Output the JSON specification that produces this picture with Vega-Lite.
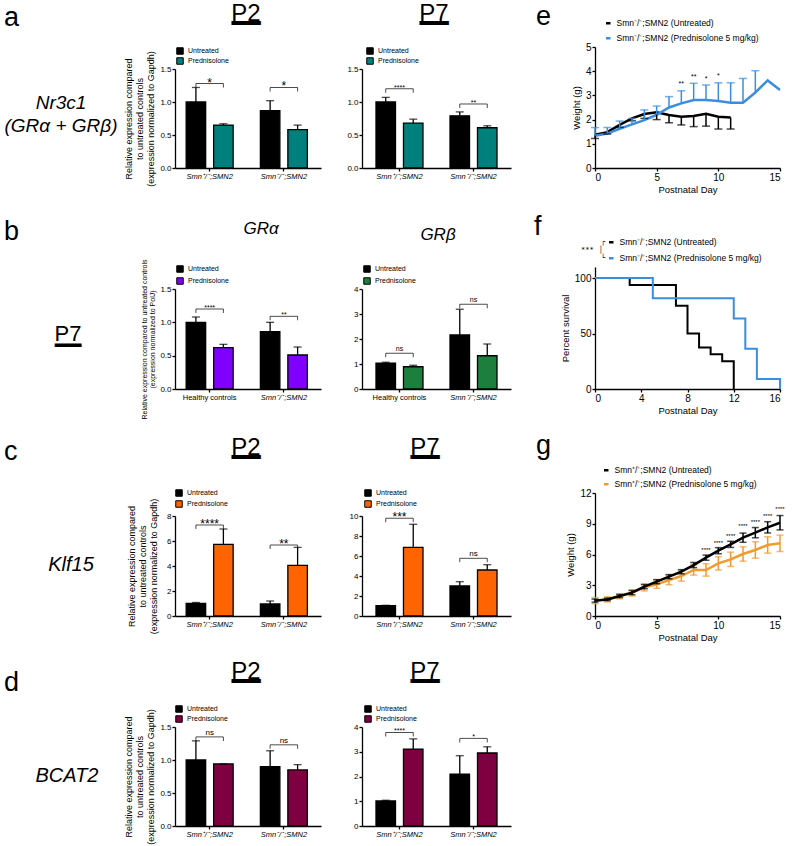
{
"$schema": "https://vega.github.io/schema/vega-lite/v6.json",
"background": "white",
"padding": {"left": 4, "top": 2, "right": 0, "bottom": 0},
"bounds": "flush",
"columns": 4,
"spacing": {"row": 99, "column": 41},
"resolve": {"scale": {"color": "independent", "fill": "independent", "xOffset": "independent"}, "legend": {"color": "independent", "fill": "independent"}},
"config": {
  "font": "Liberation Sans",
  "view": {"stroke": null},
  "axis": {"grid": false, "domainColor": "#000", "domainWidth": 1.3, "tickColor": "#000", "tickWidth": 1.3, "tickSize": 3, "labelColor": "#000", "titleColor": "#000", "titleFontWeight": "normal", "labelFontSize": 8, "labelPadding": 1, "labelOverlap": false},
  "legend": {"padding": 0, "offset": 0, "labelColor": "#000", "labelFontSize": 7, "titleColor": "#000"},
  "title": {"color": "#000", "fontWeight": "normal", "subtitleColor": "#000", "frame": "group"}
},
"datasets": {
  "aP2": [
    {"g": "Smn⁺/⁻;SMN2", "t": "Untreated", "v": 1.0, "e": 1.22},
    {"g": "Smn⁺/⁻;SMN2", "t": "Prednisolone", "v": 0.65, "e": 0.67},
    {"g": "Smn⁻/⁻;SMN2", "t": "Untreated", "v": 0.87, "e": 1.02},
    {"g": "Smn⁻/⁻;SMN2", "t": "Prednisolone", "v": 0.58, "e": 0.65}],
  "aP2s": [{"g": "Smn⁺/⁻;SMN2", "y": 1.28, "s": "*"}, {"g": "Smn⁻/⁻;SMN2", "y": 1.22, "s": "*"}],
  "aP7": [
    {"g": "Smn⁺/⁻;SMN2", "t": "Untreated", "v": 1.0, "e": 1.07},
    {"g": "Smn⁺/⁻;SMN2", "t": "Prednisolone", "v": 0.68, "e": 0.74},
    {"g": "Smn⁻/⁻;SMN2", "t": "Untreated", "v": 0.79, "e": 0.85},
    {"g": "Smn⁻/⁻;SMN2", "t": "Prednisolone", "v": 0.61, "e": 0.64}],
  "aP7s": [{"g": "Smn⁺/⁻;SMN2", "y": 1.2, "s": "****"}, {"g": "Smn⁻/⁻;SMN2", "y": 0.97, "s": "**"}],
  "bA": [
    {"g": "Healthy controls", "t": "Untreated", "v": 1.0, "e": 1.08},
    {"g": "Healthy controls", "t": "Prednisolone", "v": 0.62, "e": 0.67},
    {"g": "Smn⁻/⁻;SMN2", "t": "Untreated", "v": 0.86, "e": 1.0},
    {"g": "Smn⁻/⁻;SMN2", "t": "Prednisolone", "v": 0.51, "e": 0.63}],
  "bAs": [{"g": "Healthy controls", "y": 1.2, "s": "****"}, {"g": "Smn⁻/⁻;SMN2", "y": 1.09, "s": "**"}],
  "bB": [
    {"g": "Healthy controls", "t": "Untreated", "v": 1.03, "e": 1.07},
    {"g": "Healthy controls", "t": "Prednisolone", "v": 0.89, "e": 0.95},
    {"g": "Smn⁻/⁻;SMN2", "t": "Untreated", "v": 2.16, "e": 3.19},
    {"g": "Smn⁻/⁻;SMN2", "t": "Prednisolone", "v": 1.33, "e": 1.8}],
  "bBs": [{"g": "Healthy controls", "y": 1.43, "s": "ns"}, {"g": "Smn⁻/⁻;SMN2", "y": 3.39, "s": "ns"}],
  "cP2": [
    {"g": "Smn⁺/⁻;SMN2", "t": "Untreated", "v": 1.0, "e": 1.08},
    {"g": "Smn⁺/⁻;SMN2", "t": "Prednisolone", "v": 5.73, "e": 6.96},
    {"g": "Smn⁻/⁻;SMN2", "t": "Untreated", "v": 0.97, "e": 1.2},
    {"g": "Smn⁻/⁻;SMN2", "t": "Prednisolone", "v": 4.05, "e": 5.49}],
  "cP2s": [{"g": "Smn⁺/⁻;SMN2", "y": 7.28, "s": "****"}, {"g": "Smn⁻/⁻;SMN2", "y": 5.68, "s": "**"}],
  "cP7": [
    {"g": "Smn⁺/⁻;SMN2", "t": "Untreated", "v": 1.03, "e": 1.07},
    {"g": "Smn⁺/⁻;SMN2", "t": "Prednisolone", "v": 6.87, "e": 9.17},
    {"g": "Smn⁻/⁻;SMN2", "t": "Untreated", "v": 3.0, "e": 3.43},
    {"g": "Smn⁻/⁻;SMN2", "t": "Prednisolone", "v": 4.6, "e": 5.13}],
  "cP7s": [{"g": "Smn⁺/⁻;SMN2", "y": 9.77, "s": "***"}, {"g": "Smn⁻/⁻;SMN2", "y": 5.77, "s": "ns"}],
  "dP2": [
    {"g": "Smn⁺/⁻;SMN2", "t": "Untreated", "v": 1.0, "e": 1.29},
    {"g": "Smn⁺/⁻;SMN2", "t": "Prednisolone", "v": 0.94, "e": 0.94},
    {"g": "Smn⁻/⁻;SMN2", "t": "Untreated", "v": 0.9, "e": 1.14},
    {"g": "Smn⁻/⁻;SMN2", "t": "Prednisolone", "v": 0.85, "e": 0.93}],
  "dP2s": [{"g": "Smn⁺/⁻;SMN2", "y": 1.35, "s": "ns"}, {"g": "Smn⁻/⁻;SMN2", "y": 1.23, "s": "ns"}],
  "dP7": [
    {"g": "Smn⁺/⁻;SMN2", "t": "Untreated", "v": 1.01, "e": 1.04},
    {"g": "Smn⁺/⁻;SMN2", "t": "Prednisolone", "v": 3.11, "e": 3.52},
    {"g": "Smn⁻/⁻;SMN2", "t": "Untreated", "v": 2.1, "e": 2.84},
    {"g": "Smn⁻/⁻;SMN2", "t": "Prednisolone", "v": 2.95, "e": 3.2}],
  "dP7s": [{"g": "Smn⁺/⁻;SMN2", "y": 3.78, "s": "****"}, {"g": "Smn⁻/⁻;SMN2", "y": 3.54, "s": "*"}],
  "eL": [
    {"d": 0, "s": "U", "w": 1.38}, {"d": 1, "s": "U", "w": 1.48}, {"d": 2, "s": "U", "w": 1.78}, {"d": 3, "s": "U", "w": 2.05},
    {"d": 4, "s": "U", "w": 2.23}, {"d": 5, "s": "U", "w": 2.3}, {"d": 6, "s": "U", "w": 2.19}, {"d": 7, "s": "U", "w": 2.12},
    {"d": 8, "s": "U", "w": 2.15}, {"d": 9, "s": "U", "w": 2.24}, {"d": 10, "s": "U", "w": 2.12}, {"d": 11, "s": "U", "w": 2.09},
    {"d": 0, "s": "P", "w": 1.33}, {"d": 1, "s": "P", "w": 1.42}, {"d": 2, "s": "P", "w": 1.62}, {"d": 3, "s": "P", "w": 1.8},
    {"d": 4, "s": "P", "w": 1.98}, {"d": 5, "s": "P", "w": 2.2}, {"d": 6, "s": "P", "w": 2.5}, {"d": 7, "s": "P", "w": 2.67},
    {"d": 8, "s": "P", "w": 2.81}, {"d": 9, "s": "P", "w": 2.81}, {"d": 10, "s": "P", "w": 2.77}, {"d": 11, "s": "P", "w": 2.7},
    {"d": 12, "s": "P", "w": 2.7}, {"d": 13, "s": "P", "w": 3.12}, {"d": 14, "s": "P", "w": 3.62}, {"d": 15, "s": "P", "w": 3.22}],
  "eEU": [
    {"d": 0, "w": 1.38, "b": 1.22}, {"d": 1, "w": 1.48, "b": 1.4}, {"d": 2, "w": 1.78, "b": 1.68}, {"d": 3, "w": 2.05, "b": 1.95},
    {"d": 4, "w": 2.23, "b": 2.05}, {"d": 5, "w": 2.3, "b": 2.0}, {"d": 6, "w": 2.19, "b": 1.87}, {"d": 7, "w": 2.12, "b": 1.78},
    {"d": 8, "w": 2.15, "b": 1.71}, {"d": 9, "w": 2.24, "b": 1.73}, {"d": 10, "w": 2.12, "b": 1.61}, {"d": 11, "w": 2.09, "b": 1.61}],
  "eEP": [
    {"d": 0, "w": 1.33, "b": 1.67}, {"d": 1, "w": 1.42, "b": 1.67}, {"d": 2, "w": 1.62, "b": 1.94}, {"d": 3, "w": 1.8, "b": 2.05},
    {"d": 4, "w": 1.98, "b": 2.4}, {"d": 5, "w": 2.2, "b": 2.56}, {"d": 6, "w": 2.5, "b": 2.95}, {"d": 7, "w": 2.67, "b": 3.19},
    {"d": 8, "w": 2.81, "b": 3.5}, {"d": 9, "w": 2.81, "b": 3.43}, {"d": 10, "w": 2.77, "b": 3.52}, {"d": 11, "w": 2.7, "b": 3.52},
    {"d": 12, "w": 2.7, "b": 3.7}, {"d": 13, "w": 3.12, "b": 4.02}],
  "eS": [{"d": 7, "y": 3.47, "s": "**"}, {"d": 8, "y": 3.77, "s": "**"}, {"d": 9, "y": 3.68, "s": "*"}, {"d": 10, "y": 3.8, "s": "*"}],
  "fL": [
    {"d": 0, "s": "U", "p": 100}, {"d": 3, "s": "U", "p": 93.75}, {"d": 7, "s": "U", "p": 75}, {"d": 8, "s": "U", "p": 50},
    {"d": 9, "s": "U", "p": 37.5}, {"d": 10, "s": "U", "p": 31.25}, {"d": 11, "s": "U", "p": 25}, {"d": 12, "s": "U", "p": 0},
    {"d": 0, "s": "P", "p": 100}, {"d": 5, "s": "P", "p": 81.8}, {"d": 12, "s": "P", "p": 63.6}, {"d": 13, "s": "P", "p": 36.4},
    {"d": 14, "s": "P", "p": 9.1}, {"d": 16, "s": "P", "p": 0}],
  "gU": [
    {"d": 0, "w": 1.5, "lo": 1.35, "hi": 1.65}, {"d": 1, "w": 1.62, "lo": 1.5, "hi": 1.74}, {"d": 2, "w": 1.95, "lo": 1.8, "hi": 2.1},
    {"d": 3, "w": 2.28, "lo": 2.08, "hi": 2.48}, {"d": 4, "w": 2.86, "lo": 2.66, "hi": 3.06}, {"d": 5, "w": 3.35, "lo": 3.15, "hi": 3.55},
    {"d": 6, "w": 3.84, "lo": 3.64, "hi": 4.04}, {"d": 7, "w": 4.32, "lo": 4.12, "hi": 4.52}, {"d": 8, "w": 4.97, "lo": 4.72, "hi": 5.22},
    {"d": 9, "w": 5.69, "lo": 5.44, "hi": 5.94}, {"d": 10, "w": 6.37, "lo": 6.07, "hi": 6.67}, {"d": 11, "w": 6.99, "lo": 6.69, "hi": 7.29},
    {"d": 12, "w": 7.64, "lo": 7.19, "hi": 8.09}, {"d": 13, "w": 8.13, "lo": 7.63, "hi": 8.63}, {"d": 14, "w": 8.65, "lo": 8.1, "hi": 9.2},
    {"d": 15, "w": 9.1, "lo": 8.4, "hi": 9.8}],
  "gP": [
    {"d": 0, "w": 1.5, "lo": 1.2, "hi": 1.8}, {"d": 1, "w": 1.62, "lo": 1.37, "hi": 1.87}, {"d": 2, "w": 1.92, "lo": 1.67, "hi": 2.17},
    {"d": 3, "w": 2.25, "lo": 1.95, "hi": 2.55}, {"d": 4, "w": 2.8, "lo": 2.45, "hi": 3.15}, {"d": 5, "w": 3.1, "lo": 2.7, "hi": 3.5},
    {"d": 6, "w": 3.5, "lo": 3.05, "hi": 3.95}, {"d": 7, "w": 3.9, "lo": 3.4, "hi": 4.4}, {"d": 8, "w": 4.49, "lo": 3.99, "hi": 4.99},
    {"d": 9, "w": 4.49, "lo": 3.89, "hi": 5.09}, {"d": 10, "w": 5.14, "lo": 4.49, "hi": 5.79}, {"d": 11, "w": 5.53, "lo": 4.83, "hi": 6.23},
    {"d": 12, "w": 6.05, "lo": 5.35, "hi": 6.75}, {"d": 13, "w": 6.44, "lo": 5.64, "hi": 7.24}, {"d": 14, "w": 6.93, "lo": 6.13, "hi": 7.73},
    {"d": 15, "w": 7.09, "lo": 6.29, "hi": 7.89}],
  "gS": [{"d": 9, "y": 6.44, "s": "****"}, {"d": 10, "y": 7.15, "s": "****"}, {"d": 11, "y": 7.8, "s": "****"}, {"d": 12, "y": 8.78, "s": "****"},
    {"d": 13, "y": 9.2, "s": "****"}, {"d": 14, "y": 9.76, "s": "****"}, {"d": 15, "y": 10.4, "s": "****"}]
},
"concat": [
  {"width": 130, "height": 121,
   "title": {"text": "a", "anchor": "start", "fontSize": 27, "offset": 15},
   "data": {"values": [{"label": "Nr3c1\n(GRα + GRβ)"}]},
   "mark": {"type": "text", "fontSize": 19, "fontStyle": "italic", "lineBreak": "\n", "lineHeight": 23, "dx": -8, "dy": -4.5},
   "encoding": {"text": {"field": "label", "type": "nominal"}}},
  {"width": 146, "height": 121,
   "title": {"text": "P2", "subtitle": "━━", "anchor": "middle", "dx": -2, "offset": 11, "fontSize": 24, "subtitleFont": "DejaVu Sans", "subtitleFontSize": 24, "subtitlePadding": -14},
   "layer": [
    {"data": {"name": "aP2"}, "mark": {"type": "bar", "stroke": "#000", "strokeWidth": 1.3},
     "encoding": {
      "x": {"field": "g", "type": "nominal", "sort": null, "scale": {"paddingInner": 0.367, "paddingOuter": 0.167, "align": 0.45}, "axis": {"title": null, "labelAngle": 0, "labelFontStyle": "italic", "labelFontSize": 7.5}},
      "xOffset": {"field": "t", "type": "nominal", "sort": ["Untreated", "Prednisolone"], "scale": {"paddingInner": 0.29, "paddingOuter": 0}},
      "y": {"field": "v", "type": "quantitative", "scale": {"domain": [0, 1.5], "range": [121, 22], "nice": false}, "axis": {"values": [0, 0.5, 1, 1.5], "tickCount": 20, "format": ".1f", "labelOverlap": false, "title": ["Relative expression compared", "to untreated controls", "(expression normalized to Gapdh)"], "titleFontSize": 9, "titleLineHeight": 11, "titlePadding": 4}},
      "fill": {"field": "t", "type": "nominal", "scale": {"domain": ["Untreated", "Prednisolone"], "range": ["#000000", "#00807c"]}, "legend": {"orient": "none", "legendX": 1, "legendY": 0, "title": null, "symbolType": "square", "symbolSize": 42, "symbolStrokeColor": "#000", "symbolStrokeWidth": 1, "labelFontSize": 7, "rowPadding": -3}}}},
    {"data": {"name": "aP2"}, "mark": {"type": "rule", "color": "#000", "strokeWidth": 1.3},
     "encoding": {"x": {"field": "g", "type": "nominal", "sort": null}, "xOffset": {"field": "t", "type": "nominal", "sort": ["Untreated", "Prednisolone"]}, "y": {"field": "v", "type": "quantitative"}, "y2": {"field": "e"}}},
    {"data": {"name": "aP2"}, "mark": {"type": "tick", "orient": "horizontal", "color": "#000", "size": 8, "thickness": 1.3},
     "encoding": {"x": {"field": "g", "type": "nominal", "sort": null}, "xOffset": {"field": "t", "type": "nominal", "sort": ["Untreated", "Prednisolone"]}, "y": {"field": "e", "type": "quantitative"}}},
    {"data": {"name": "aP2s"}, "mark": {"type": "tick", "orient": "horizontal", "color": "#000", "size": 27.5, "thickness": 1},
     "encoding": {"x": {"field": "g", "type": "nominal", "sort": null}, "y": {"field": "y", "type": "quantitative"}}},
    {"data": {"name": "aP2s"}, "mark": {"type": "tick", "orient": "vertical", "color": "#000", "size": 4, "thickness": 1, "yOffset": 2},
     "encoding": {"x": {"field": "g", "type": "nominal", "sort": null, "bandPosition": 0.2074}, "y": {"field": "y", "type": "quantitative"}}},
    {"data": {"name": "aP2s"}, "mark": {"type": "tick", "orient": "vertical", "color": "#000", "size": 4, "thickness": 1, "yOffset": 2},
     "encoding": {"x": {"field": "g", "type": "nominal", "sort": null, "bandPosition": 0.7926}, "y": {"field": "y", "type": "quantitative"}}},
    {"data": {"name": "aP2s"}, "mark": {"type": "text", "fontSize": 12, "baseline": "alphabetic", "dy": 3},
     "encoding": {"x": {"field": "g", "type": "nominal", "sort": null}, "y": {"field": "y", "type": "quantitative"}, "text": {"field": "s", "type": "nominal"}}}
   ]},
  {"width": 192, "height": 121,
   "title": {"text": "P7", "subtitle": "━━", "anchor": "middle", "dx": -24, "offset": 11, "fontSize": 24, "subtitleFont": "DejaVu Sans", "subtitleFontSize": 24, "subtitlePadding": -14},
   "layer": [
    {"data": {"name": "aP7"}, "mark": {"type": "bar", "stroke": "#000", "strokeWidth": 1.3},
     "encoding": {
      "x": {"field": "g", "type": "nominal", "sort": null, "scale": {"range": [0, 149], "paddingInner": 0.365, "paddingOuter": 0.189}, "axis": {"title": null, "labelAngle": 0, "labelFontStyle": "italic", "labelFontSize": 7.5}},
      "xOffset": {"field": "t", "type": "nominal", "sort": ["Untreated", "Prednisolone"], "scale": {"paddingInner": 0.29, "paddingOuter": 0}},
      "y": {"field": "v", "type": "quantitative", "scale": {"domain": [0, 1.5], "range": [121, 22], "nice": false}, "axis": {"values": [0, 0.5, 1, 1.5], "tickCount": 20, "format": ".1f", "labelOverlap": false, "title": null}},
      "fill": {"field": "t", "type": "nominal", "scale": {"domain": ["Untreated", "Prednisolone"], "range": ["#000000", "#00807c"]}, "legend": {"orient": "none", "legendX": 4, "legendY": 0, "title": null, "symbolType": "square", "symbolSize": 42, "symbolStrokeColor": "#000", "symbolStrokeWidth": 1, "labelFontSize": 7, "rowPadding": -3}}}},
    {"data": {"name": "aP7"}, "mark": {"type": "rule", "color": "#000", "strokeWidth": 1.3},
     "encoding": {"x": {"field": "g", "type": "nominal", "sort": null}, "xOffset": {"field": "t", "type": "nominal", "sort": ["Untreated", "Prednisolone"]}, "y": {"field": "v", "type": "quantitative"}, "y2": {"field": "e"}}},
    {"data": {"name": "aP7"}, "mark": {"type": "tick", "orient": "horizontal", "color": "#000", "size": 8, "thickness": 1.3},
     "encoding": {"x": {"field": "g", "type": "nominal", "sort": null}, "xOffset": {"field": "t", "type": "nominal", "sort": ["Untreated", "Prednisolone"]}, "y": {"field": "e", "type": "quantitative"}}},
    {"data": {"name": "aP7s"}, "mark": {"type": "tick", "orient": "horizontal", "color": "#000", "size": 27.5, "thickness": 1},
     "encoding": {"x": {"field": "g", "type": "nominal", "sort": null}, "y": {"field": "y", "type": "quantitative"}}},
    {"data": {"name": "aP7s"}, "mark": {"type": "tick", "orient": "vertical", "color": "#000", "size": 4, "thickness": 1, "yOffset": 2},
     "encoding": {"x": {"field": "g", "type": "nominal", "sort": null, "bandPosition": 0.2074}, "y": {"field": "y", "type": "quantitative"}}},
    {"data": {"name": "aP7s"}, "mark": {"type": "tick", "orient": "vertical", "color": "#000", "size": 4, "thickness": 1, "yOffset": 2},
     "encoding": {"x": {"field": "g", "type": "nominal", "sort": null, "bandPosition": 0.7926}, "y": {"field": "y", "type": "quantitative"}}},
    {"data": {"name": "aP7s"}, "mark": {"type": "text", "fontSize": 7, "baseline": "alphabetic", "dy": 1},
     "encoding": {"x": {"field": "g", "type": "nominal", "sort": null}, "y": {"field": "y", "type": "quantitative"}, "text": {"field": "s", "type": "nominal"}}}
   ]},
  {"width": 185, "height": 121,
   "title": {"text": "e", "anchor": "start", "dx": -59, "fontSize": 27, "offset": -12},
   "layer": [
    {"data": {"name": "eL"}, "mark": {"type": "line", "strokeWidth": 2.5},
     "encoding": {
      "x": {"field": "d", "type": "quantitative", "scale": {"domain": [0, 15], "nice": false}, "axis": {"values": [0, 5, 10, 15], "tickCount": 20, "format": "d", "labelOverlap": false, "title": "Postnatal Day", "labelFontSize": 10, "titleFontSize": 9.5, "titlePadding": 2}},
      "y": {"field": "w", "type": "quantitative", "scale": {"domain": [0, 5], "nice": false}, "axis": {"values": [0, 1, 2, 3, 4, 5], "tickCount": 20, "format": "d", "labelOverlap": false, "title": "Weight (g)", "labelFontSize": 10, "titleFontSize": 9.5, "titlePadding": 4}},
      "color": {"field": "s", "type": "nominal", "scale": {"domain": ["U", "P"], "range": ["#000000", "#3b8ede"]}, "legend": {"orient": "none", "legendX": 9, "legendY": -28, "title": null, "symbolType": "stroke", "symbolStrokeWidth": 2.5, "symbolSize": 20, "labelFontSize": 8.5, "rowPadding": 4, "labelLimit": 300, "labelExpr": "datum.label == 'U' ? 'Smn⁻/⁻;SMN2 (Untreated)' : 'Smn⁻/⁻;SMN2 (Prednisolone 5 mg/kg)'"}}}},
    {"data": {"name": "eEU"}, "mark": {"type": "rule", "color": "#000", "strokeWidth": 1.5},
     "encoding": {"x": {"field": "d", "type": "quantitative"}, "y": {"field": "w", "type": "quantitative"}, "y2": {"field": "b"}}},
    {"data": {"name": "eEU"}, "mark": {"type": "tick", "orient": "horizontal", "color": "#000", "size": 8, "thickness": 1.5},
     "encoding": {"x": {"field": "d", "type": "quantitative"}, "y": {"field": "b", "type": "quantitative"}}},
    {"data": {"name": "eEP"}, "mark": {"type": "rule", "color": "#3b8ede", "strokeWidth": 1.5},
     "encoding": {"x": {"field": "d", "type": "quantitative"}, "y": {"field": "w", "type": "quantitative"}, "y2": {"field": "b"}}},
    {"data": {"name": "eEP"}, "mark": {"type": "tick", "orient": "horizontal", "color": "#3b8ede", "size": 8, "thickness": 1.5},
     "encoding": {"x": {"field": "d", "type": "quantitative"}, "y": {"field": "b", "type": "quantitative"}}},
    {"data": {"name": "eS"}, "mark": {"type": "text", "fontSize": 7, "baseline": "middle"},
     "encoding": {"x": {"field": "d", "type": "quantitative"}, "y": {"field": "y", "type": "quantitative"}, "text": {"field": "s", "type": "nominal"}}}
   ]},

  {"width": 130, "height": 122,
   "title": {"text": "b", "anchor": "start", "fontSize": 27, "offset": 21},
   "data": {"values": [{"label": "P7"}]},
   "layer": [
    {"mark": {"type": "text", "fontSize": 22, "dx": -1, "dy": 6}, "encoding": {"text": {"field": "label", "type": "nominal"}}},
    {"mark": {"type": "text", "font": "DejaVu Sans", "fontSize": 22, "dx": -1, "dy": 18}, "encoding": {"text": {"value": "━━"}}}
   ]},
  {"width": 146, "height": 122,
   "title": {"text": "GRα", "anchor": "middle", "dx": 13, "offset": 21, "fontSize": 17, "fontStyle": "italic"},
   "layer": [
    {"data": {"name": "bA"}, "mark": {"type": "bar", "stroke": "#000", "strokeWidth": 1.3},
     "encoding": {
      "x": {"field": "g", "type": "nominal", "sort": null, "scale": {"paddingInner": 0.367, "paddingOuter": 0.167, "align": 0.45}, "axis": {"title": null, "labelAngle": 0, "labelFontStyle": {"condition": {"test": "datum.value == 'Healthy controls'", "value": "normal"}, "value": "italic"}, "labelFontSize": 7.5}},
      "xOffset": {"field": "t", "type": "nominal", "sort": ["Untreated", "Prednisolone"], "scale": {"paddingInner": 0.29, "paddingOuter": 0}},
      "y": {"field": "v", "type": "quantitative", "scale": {"domain": [0, 1.5], "range": [122, 22], "nice": false}, "axis": {"values": [0, 0.5, 1, 1.5], "tickCount": 20, "format": ".1f", "labelOverlap": false, "title": ["Relative expression compared to untreated controls", "(expression normalized to PolJ)"], "titleFontSize": 7, "titleLineHeight": 8, "titlePadding": 4}},
      "fill": {"field": "t", "type": "nominal", "scale": {"domain": ["Untreated", "Prednisolone"], "range": ["#000000", "#8000ff"]}, "legend": {"orient": "none", "legendX": 1, "legendY": -2, "title": null, "symbolType": "square", "symbolSize": 42, "symbolStrokeColor": "#000", "symbolStrokeWidth": 1, "labelFontSize": 7, "rowPadding": 0}}}},
    {"data": {"name": "bA"}, "mark": {"type": "rule", "color": "#000", "strokeWidth": 1.3},
     "encoding": {"x": {"field": "g", "type": "nominal", "sort": null}, "xOffset": {"field": "t", "type": "nominal", "sort": ["Untreated", "Prednisolone"]}, "y": {"field": "v", "type": "quantitative"}, "y2": {"field": "e"}}},
    {"data": {"name": "bA"}, "mark": {"type": "tick", "orient": "horizontal", "color": "#000", "size": 8, "thickness": 1.3},
     "encoding": {"x": {"field": "g", "type": "nominal", "sort": null}, "xOffset": {"field": "t", "type": "nominal", "sort": ["Untreated", "Prednisolone"]}, "y": {"field": "e", "type": "quantitative"}}},
    {"data": {"name": "bAs"}, "mark": {"type": "tick", "orient": "horizontal", "color": "#000", "size": 27.5, "thickness": 1},
     "encoding": {"x": {"field": "g", "type": "nominal", "sort": null}, "y": {"field": "y", "type": "quantitative"}}},
    {"data": {"name": "bAs"}, "mark": {"type": "tick", "orient": "vertical", "color": "#000", "size": 4, "thickness": 1, "yOffset": 2},
     "encoding": {"x": {"field": "g", "type": "nominal", "sort": null, "bandPosition": 0.2074}, "y": {"field": "y", "type": "quantitative"}}},
    {"data": {"name": "bAs"}, "mark": {"type": "tick", "orient": "vertical", "color": "#000", "size": 4, "thickness": 1, "yOffset": 2},
     "encoding": {"x": {"field": "g", "type": "nominal", "sort": null, "bandPosition": 0.7926}, "y": {"field": "y", "type": "quantitative"}}},
    {"data": {"name": "bAs"}, "mark": {"type": "text", "fontSize": 7, "baseline": "alphabetic", "dy": 1},
     "encoding": {"x": {"field": "g", "type": "nominal", "sort": null}, "y": {"field": "y", "type": "quantitative"}, "text": {"field": "s", "type": "nominal"}}}
   ]},
  {"width": 192, "height": 122,
   "title": {"text": "GRβ", "anchor": "middle", "dx": -20, "offset": 21, "fontSize": 17, "fontStyle": "italic"},
   "layer": [
    {"data": {"name": "bB"}, "mark": {"type": "bar", "stroke": "#000", "strokeWidth": 1.3},
     "encoding": {
      "x": {"field": "g", "type": "nominal", "sort": null, "scale": {"range": [0, 149], "paddingInner": 0.365, "paddingOuter": 0.189}, "axis": {"title": null, "labelAngle": 0, "labelFontStyle": {"condition": {"test": "datum.value == 'Healthy controls'", "value": "normal"}, "value": "italic"}, "labelFontSize": 7.5}},
      "xOffset": {"field": "t", "type": "nominal", "sort": ["Untreated", "Prednisolone"], "scale": {"paddingInner": 0.29, "paddingOuter": 0}},
      "y": {"field": "v", "type": "quantitative", "scale": {"domain": [0, 4], "range": [122, 22], "nice": false}, "axis": {"values": [0, 1, 2, 3, 4], "tickCount": 20, "format": "d", "labelOverlap": false, "title": null}},
      "fill": {"field": "t", "type": "nominal", "scale": {"domain": ["Untreated", "Prednisolone"], "range": ["#000000", "#1d7f3e"]}, "legend": {"orient": "none", "legendX": 1, "legendY": -2, "title": null, "symbolType": "square", "symbolSize": 42, "symbolStrokeColor": "#000", "symbolStrokeWidth": 1, "labelFontSize": 7, "rowPadding": 0}}}},
    {"data": {"name": "bB"}, "mark": {"type": "rule", "color": "#000", "strokeWidth": 1.3},
     "encoding": {"x": {"field": "g", "type": "nominal", "sort": null}, "xOffset": {"field": "t", "type": "nominal", "sort": ["Untreated", "Prednisolone"]}, "y": {"field": "v", "type": "quantitative"}, "y2": {"field": "e"}}},
    {"data": {"name": "bB"}, "mark": {"type": "tick", "orient": "horizontal", "color": "#000", "size": 8, "thickness": 1.3},
     "encoding": {"x": {"field": "g", "type": "nominal", "sort": null}, "xOffset": {"field": "t", "type": "nominal", "sort": ["Untreated", "Prednisolone"]}, "y": {"field": "e", "type": "quantitative"}}},
    {"data": {"name": "bBs"}, "mark": {"type": "tick", "orient": "horizontal", "color": "#000", "size": 27.5, "thickness": 1},
     "encoding": {"x": {"field": "g", "type": "nominal", "sort": null}, "y": {"field": "y", "type": "quantitative"}}},
    {"data": {"name": "bBs"}, "mark": {"type": "tick", "orient": "vertical", "color": "#000", "size": 4, "thickness": 1, "yOffset": 2},
     "encoding": {"x": {"field": "g", "type": "nominal", "sort": null, "bandPosition": 0.2074}, "y": {"field": "y", "type": "quantitative"}}},
    {"data": {"name": "bBs"}, "mark": {"type": "tick", "orient": "vertical", "color": "#000", "size": 4, "thickness": 1, "yOffset": 2},
     "encoding": {"x": {"field": "g", "type": "nominal", "sort": null, "bandPosition": 0.7926}, "y": {"field": "y", "type": "quantitative"}}},
    {"data": {"name": "bBs"}, "mark": {"type": "text", "fontSize": 7, "baseline": "alphabetic", "dy": -2},
     "encoding": {"x": {"field": "g", "type": "nominal", "sort": null}, "y": {"field": "y", "type": "quantitative"}, "text": {"field": "s", "type": "nominal"}}}
   ]},
  {"width": 185, "height": 122,
   "title": {"text": "f", "anchor": "start", "dx": -61, "fontSize": 27, "offset": -3},
   "layer": [
    {"data": {"name": "fL"}, "mark": {"type": "line", "strokeWidth": 2, "interpolate": "step-after"},
     "encoding": {
      "x": {"field": "d", "type": "quantitative", "scale": {"domain": [0, 16], "nice": false}, "axis": {"values": [0, 4, 8, 12, 16], "tickCount": 20, "format": "d", "labelOverlap": false, "title": "Postnatal Day", "labelFontSize": 10, "titleFontSize": 9.5, "titlePadding": 2}},
      "y": {"field": "p", "type": "quantitative", "scale": {"domain": [0, 110], "nice": false}, "axis": {"values": [0, 50, 100], "tickCount": 20, "format": "d", "labelOverlap": false, "title": "Percent survival", "labelFontSize": 10, "titleFontSize": 9.5, "titlePadding": 4}},
      "color": {"field": "s", "type": "nominal", "scale": {"domain": ["U", "P"], "range": ["#000000", "#3b8ede"]}, "legend": {"orient": "none", "legendX": -14, "legendY": -29, "title": ["\u2800\u2800\u2800\u2800┌", "***\u2800│", "\u2800\u2800\u2800\u2800└"], "titleOrient": "left", "titleFont": "DejaVu Sans Mono", "titleFontSize": 7, "titleFontWeight": "normal", "titleLineHeight": 8.15, "titleAlign": "left", "titlePadding": 1, "symbolType": "stroke", "symbolStrokeWidth": 2.5, "symbolSize": 20, "labelFontSize": 8.5, "rowPadding": 5, "labelLimit": 300, "labelExpr": "datum.label == 'U' ? 'Smn⁻/⁻;SMN2 (Untreated)' : 'Smn⁻/⁻;SMN2 (Prednisolone 5 mg/kg)'"}}}}
   ]},

  {"width": 130, "height": 128,
   "title": {"text": "c", "anchor": "start", "fontSize": 27, "offset": 22},
   "data": {"values": [{"label": "Klf15"}]},
   "mark": {"type": "text", "fontSize": 20, "fontStyle": "italic", "dx": 2, "dy": 13},
   "encoding": {"text": {"field": "label", "type": "nominal"}}},
  {"width": 146, "height": 128,
   "title": {"text": "P2", "subtitle": "━━", "anchor": "middle", "dx": -2, "offset": 18, "fontSize": 24, "subtitleFont": "DejaVu Sans", "subtitleFontSize": 24, "subtitlePadding": -14},
   "layer": [
    {"data": {"name": "cP2"}, "mark": {"type": "bar", "stroke": "#000", "strokeWidth": 1.3},
     "encoding": {
      "x": {"field": "g", "type": "nominal", "sort": null, "scale": {"paddingInner": 0.367, "paddingOuter": 0.167, "align": 0.45}, "axis": {"title": null, "labelAngle": 0, "labelFontStyle": "italic", "labelFontSize": 7.5}},
      "xOffset": {"field": "t", "type": "nominal", "sort": ["Untreated", "Prednisolone"], "scale": {"paddingInner": 0.29, "paddingOuter": 0}},
      "y": {"field": "v", "type": "quantitative", "scale": {"domain": [0, 8], "range": [128, 28], "nice": false}, "axis": {"values": [0, 2, 4, 6, 8], "tickCount": 20, "format": "d", "labelOverlap": false, "title": ["Relative expression compared", "to untreated controls", "(expression normalized to Gapdh)"], "titleFontSize": 9, "titleLineHeight": 11, "titlePadding": 8}},
      "fill": {"field": "t", "type": "nominal", "scale": {"domain": ["Untreated", "Prednisolone"], "range": ["#000000", "#ff6400"]}, "legend": {"orient": "none", "legendX": 0, "legendY": 1, "title": null, "symbolType": "square", "symbolSize": 42, "symbolStrokeColor": "#000", "symbolStrokeWidth": 1, "labelFontSize": 7, "rowPadding": -1}}}},
    {"data": {"name": "cP2"}, "mark": {"type": "rule", "color": "#000", "strokeWidth": 1.3},
     "encoding": {"x": {"field": "g", "type": "nominal", "sort": null}, "xOffset": {"field": "t", "type": "nominal", "sort": ["Untreated", "Prednisolone"]}, "y": {"field": "v", "type": "quantitative"}, "y2": {"field": "e"}}},
    {"data": {"name": "cP2"}, "mark": {"type": "tick", "orient": "horizontal", "color": "#000", "size": 8, "thickness": 1.3},
     "encoding": {"x": {"field": "g", "type": "nominal", "sort": null}, "xOffset": {"field": "t", "type": "nominal", "sort": ["Untreated", "Prednisolone"]}, "y": {"field": "e", "type": "quantitative"}}},
    {"data": {"name": "cP2s"}, "mark": {"type": "tick", "orient": "horizontal", "color": "#000", "size": 27.5, "thickness": 1},
     "encoding": {"x": {"field": "g", "type": "nominal", "sort": null}, "y": {"field": "y", "type": "quantitative"}}},
    {"data": {"name": "cP2s"}, "mark": {"type": "tick", "orient": "vertical", "color": "#000", "size": 4, "thickness": 1, "yOffset": 2},
     "encoding": {"x": {"field": "g", "type": "nominal", "sort": null, "bandPosition": 0.2074}, "y": {"field": "y", "type": "quantitative"}}},
    {"data": {"name": "cP2s"}, "mark": {"type": "tick", "orient": "vertical", "color": "#000", "size": 4, "thickness": 1, "yOffset": 2},
     "encoding": {"x": {"field": "g", "type": "nominal", "sort": null, "bandPosition": 0.7926}, "y": {"field": "y", "type": "quantitative"}}},
    {"data": {"name": "cP2s"}, "mark": {"type": "text", "fontSize": 12, "baseline": "alphabetic", "dy": 3},
     "encoding": {"x": {"field": "g", "type": "nominal", "sort": null}, "y": {"field": "y", "type": "quantitative"}, "text": {"field": "s", "type": "nominal"}}}
   ]},
  {"width": 192, "height": 128,
   "title": {"text": "P7", "subtitle": "━━", "anchor": "middle", "dx": -33, "offset": 18, "fontSize": 24, "subtitleFont": "DejaVu Sans", "subtitleFontSize": 24, "subtitlePadding": -14},
   "layer": [
    {"data": {"name": "cP7"}, "mark": {"type": "bar", "stroke": "#000", "strokeWidth": 1.3},
     "encoding": {
      "x": {"field": "g", "type": "nominal", "sort": null, "scale": {"range": [0, 149], "paddingInner": 0.365, "paddingOuter": 0.189}, "axis": {"title": null, "labelAngle": 0, "labelFontStyle": "italic", "labelFontSize": 7.5}},
      "xOffset": {"field": "t", "type": "nominal", "sort": ["Untreated", "Prednisolone"], "scale": {"paddingInner": 0.29, "paddingOuter": 0}},
      "y": {"field": "v", "type": "quantitative", "scale": {"domain": [0, 10], "range": [128, 28], "nice": false}, "axis": {"values": [0, 2, 4, 6, 8, 10], "tickCount": 20, "format": "d", "labelOverlap": false, "title": null}},
      "fill": {"field": "t", "type": "nominal", "scale": {"domain": ["Untreated", "Prednisolone"], "range": ["#000000", "#ff6400"]}, "legend": {"orient": "none", "legendX": 2, "legendY": 1, "title": null, "symbolType": "square", "symbolSize": 42, "symbolStrokeColor": "#000", "symbolStrokeWidth": 1, "labelFontSize": 7, "rowPadding": -1}}}},
    {"data": {"name": "cP7"}, "mark": {"type": "rule", "color": "#000", "strokeWidth": 1.3},
     "encoding": {"x": {"field": "g", "type": "nominal", "sort": null}, "xOffset": {"field": "t", "type": "nominal", "sort": ["Untreated", "Prednisolone"]}, "y": {"field": "v", "type": "quantitative"}, "y2": {"field": "e"}}},
    {"data": {"name": "cP7"}, "mark": {"type": "tick", "orient": "horizontal", "color": "#000", "size": 8, "thickness": 1.3},
     "encoding": {"x": {"field": "g", "type": "nominal", "sort": null}, "xOffset": {"field": "t", "type": "nominal", "sort": ["Untreated", "Prednisolone"]}, "y": {"field": "e", "type": "quantitative"}}},
    {"data": {"name": "cP7s"}, "mark": {"type": "tick", "orient": "horizontal", "color": "#000", "size": 27.5, "thickness": 1},
     "encoding": {"x": {"field": "g", "type": "nominal", "sort": null}, "y": {"field": "y", "type": "quantitative"}}},
    {"data": {"name": "cP7s"}, "mark": {"type": "tick", "orient": "vertical", "color": "#000", "size": 4, "thickness": 1, "yOffset": 2},
     "encoding": {"x": {"field": "g", "type": "nominal", "sort": null, "bandPosition": 0.2074}, "y": {"field": "y", "type": "quantitative"}}},
    {"data": {"name": "cP7s"}, "mark": {"type": "tick", "orient": "vertical", "color": "#000", "size": 4, "thickness": 1, "yOffset": 2},
     "encoding": {"x": {"field": "g", "type": "nominal", "sort": null, "bandPosition": 0.7926}, "y": {"field": "y", "type": "quantitative"}}},
    {"data": {"name": "cP7s"}, "transform": [{"filter": "datum.s != 'ns'"}], "mark": {"type": "text", "fontSize": 12, "baseline": "alphabetic", "dy": 3},
     "encoding": {"x": {"field": "g", "type": "nominal", "sort": null}, "y": {"field": "y", "type": "quantitative"}, "text": {"field": "s", "type": "nominal"}}},
    {"data": {"name": "cP7s"}, "transform": [{"filter": "datum.s == 'ns'"}], "mark": {"type": "text", "fontSize": 8, "baseline": "alphabetic", "dy": -2},
     "encoding": {"x": {"field": "g", "type": "nominal", "sort": null}, "y": {"field": "y", "type": "quantitative"}, "text": {"field": "s", "type": "nominal"}}}
   ]},
  {"width": 185, "height": 128,
   "title": {"text": "g", "anchor": "start", "dx": -59, "fontSize": 27, "offset": 6},
   "layer": [
    {"data": {"name": "gP"}, "mark": {"type": "line", "strokeWidth": 2.5, "color": "#f39a2e"},
     "encoding": {
      "x": {"field": "d", "type": "quantitative", "scale": {"domain": [0, 15], "nice": false}, "axis": {"values": [0, 5, 10, 15], "tickCount": 20, "format": "d", "labelOverlap": false, "title": "Postnatal Day", "labelFontSize": 10, "titleFontSize": 9.5, "titlePadding": 2}},
      "y": {"field": "w", "type": "quantitative", "scale": {"domain": [0, 12], "range": [128, 5], "nice": false}, "axis": {"values": [0, 3, 6, 9, 12], "tickCount": 20, "format": "d", "labelOverlap": false, "title": "Weight (g)", "labelFontSize": 10, "titleFontSize": 9.5, "titlePadding": 4}}}},
    {"data": {"name": "gP"}, "mark": {"type": "rule", "color": "#f39a2e", "strokeWidth": 1.5},
     "encoding": {"x": {"field": "d", "type": "quantitative"}, "y": {"field": "lo", "type": "quantitative"}, "y2": {"field": "hi"}}},
    {"data": {"name": "gP"}, "mark": {"type": "tick", "orient": "horizontal", "color": "#f39a2e", "size": 7, "thickness": 1.5},
     "encoding": {"x": {"field": "d", "type": "quantitative"}, "y": {"field": "lo", "type": "quantitative"}}},
    {"data": {"name": "gP"}, "mark": {"type": "tick", "orient": "horizontal", "color": "#f39a2e", "size": 7, "thickness": 1.5},
     "encoding": {"x": {"field": "d", "type": "quantitative"}, "y": {"field": "hi", "type": "quantitative"}}},
    {"data": {"name": "gU"}, "mark": {"type": "line", "strokeWidth": 2.5, "color": "#000"},
     "encoding": {"x": {"field": "d", "type": "quantitative"}, "y": {"field": "w", "type": "quantitative"}}},
    {"data": {"name": "gU"}, "mark": {"type": "rule", "color": "#000", "strokeWidth": 1.5},
     "encoding": {"x": {"field": "d", "type": "quantitative"}, "y": {"field": "lo", "type": "quantitative"}, "y2": {"field": "hi"}}},
    {"data": {"name": "gU"}, "mark": {"type": "tick", "orient": "horizontal", "color": "#000", "size": 7, "thickness": 1.5},
     "encoding": {"x": {"field": "d", "type": "quantitative"}, "y": {"field": "lo", "type": "quantitative"}}},
    {"data": {"name": "gU"}, "mark": {"type": "tick", "orient": "horizontal", "color": "#000", "size": 7, "thickness": 1.5},
     "encoding": {"x": {"field": "d", "type": "quantitative"}, "y": {"field": "hi", "type": "quantitative"}}},
    {"data": {"name": "gS"}, "mark": {"type": "text", "fontSize": 6, "baseline": "middle"},
     "encoding": {"x": {"field": "d", "type": "quantitative"}, "y": {"field": "y", "type": "quantitative"}, "text": {"field": "s", "type": "nominal"}}},
    {"data": {"values": [{"s": "U"}, {"s": "P"}]}, "mark": {"type": "line", "strokeWidth": 2.5, "opacity": 0},
     "encoding": {"color": {"field": "s", "type": "nominal", "scale": {"domain": ["U", "P"], "range": ["#000000", "#f39a2e"]}, "legend": {"orient": "none", "legendX": 7, "legendY": -22, "title": null, "symbolType": "stroke", "symbolStrokeWidth": 2.5, "symbolSize": 20, "symbolOpacity": 1, "labelFontSize": 8.5, "rowPadding": 3, "labelLimit": 300, "labelExpr": "datum.label == 'U' ? 'Smn⁺/⁻;SMN2 (Untreated)' : 'Smn⁺/⁻;SMN2 (Prednisolone 5 mg/kg)'"}}}}
   ]},

  {"width": 130, "height": 111,
   "title": {"text": "d", "anchor": "start", "fontSize": 27, "offset": 18},
   "data": {"values": [{"label": "BCAT2"}]},
   "mark": {"type": "text", "fontSize": 20, "fontStyle": "italic", "dx": -2, "dy": 5.5},
   "encoding": {"text": {"field": "label", "type": "nominal"}}},
  {"width": 146, "height": 111,
   "title": {"text": "P2", "subtitle": "━━", "anchor": "middle", "dx": -2, "offset": 11, "fontSize": 24, "subtitleFont": "DejaVu Sans", "subtitleFontSize": 24, "subtitlePadding": -14},
   "layer": [
    {"data": {"name": "dP2"}, "mark": {"type": "bar", "stroke": "#000", "strokeWidth": 1.3},
     "encoding": {
      "x": {"field": "g", "type": "nominal", "sort": null, "scale": {"paddingInner": 0.367, "paddingOuter": 0.167, "align": 0.45}, "axis": {"title": null, "labelAngle": 0, "labelFontStyle": "italic", "labelFontSize": 7.5}},
      "xOffset": {"field": "t", "type": "nominal", "sort": ["Untreated", "Prednisolone"], "scale": {"paddingInner": 0.29, "paddingOuter": 0}},
      "y": {"field": "v", "type": "quantitative", "scale": {"domain": [0, 1.5], "range": [111, 12], "nice": false}, "axis": {"values": [0, 0.5, 1, 1.5], "tickCount": 20, "format": ".1f", "labelOverlap": false, "title": ["Relative expression compared", "to untreated controls", "(expression normalized to Gapdh)"], "titleFontSize": 9, "titleLineHeight": 11, "titlePadding": 4}},
      "fill": {"field": "t", "type": "nominal", "scale": {"domain": ["Untreated", "Prednisolone"], "range": ["#000000", "#7f0040"]}, "legend": {"orient": "none", "legendX": 0, "legendY": -10, "title": null, "symbolType": "square", "symbolSize": 42, "symbolStrokeColor": "#000", "symbolStrokeWidth": 1, "labelFontSize": 7, "rowPadding": -3}}}},
    {"data": {"name": "dP2"}, "mark": {"type": "rule", "color": "#000", "strokeWidth": 1.3},
     "encoding": {"x": {"field": "g", "type": "nominal", "sort": null}, "xOffset": {"field": "t", "type": "nominal", "sort": ["Untreated", "Prednisolone"]}, "y": {"field": "v", "type": "quantitative"}, "y2": {"field": "e"}}},
    {"data": {"name": "dP2"}, "mark": {"type": "tick", "orient": "horizontal", "color": "#000", "size": 8, "thickness": 1.3},
     "encoding": {"x": {"field": "g", "type": "nominal", "sort": null}, "xOffset": {"field": "t", "type": "nominal", "sort": ["Untreated", "Prednisolone"]}, "y": {"field": "e", "type": "quantitative"}}},
    {"data": {"name": "dP2s"}, "mark": {"type": "tick", "orient": "horizontal", "color": "#000", "size": 27.5, "thickness": 1},
     "encoding": {"x": {"field": "g", "type": "nominal", "sort": null}, "y": {"field": "y", "type": "quantitative"}}},
    {"data": {"name": "dP2s"}, "mark": {"type": "tick", "orient": "vertical", "color": "#000", "size": 4, "thickness": 1, "yOffset": 2},
     "encoding": {"x": {"field": "g", "type": "nominal", "sort": null, "bandPosition": 0.2074}, "y": {"field": "y", "type": "quantitative"}}},
    {"data": {"name": "dP2s"}, "mark": {"type": "tick", "orient": "vertical", "color": "#000", "size": 4, "thickness": 1, "yOffset": 2},
     "encoding": {"x": {"field": "g", "type": "nominal", "sort": null, "bandPosition": 0.7926}, "y": {"field": "y", "type": "quantitative"}}},
    {"data": {"name": "dP2s"}, "mark": {"type": "text", "fontSize": 8, "baseline": "alphabetic", "dy": -2},
     "encoding": {"x": {"field": "g", "type": "nominal", "sort": null}, "y": {"field": "y", "type": "quantitative"}, "text": {"field": "s", "type": "nominal"}}}
   ]},
  {"width": 192, "height": 111,
   "title": {"text": "P7", "subtitle": "━━", "anchor": "middle", "dx": -33, "offset": 11, "fontSize": 24, "subtitleFont": "DejaVu Sans", "subtitleFontSize": 24, "subtitlePadding": -14},
   "layer": [
    {"data": {"name": "dP7"}, "mark": {"type": "bar", "stroke": "#000", "strokeWidth": 1.3},
     "encoding": {
      "x": {"field": "g", "type": "nominal", "sort": null, "scale": {"range": [0, 149], "paddingInner": 0.365, "paddingOuter": 0.189}, "axis": {"title": null, "labelAngle": 0, "labelFontStyle": "italic", "labelFontSize": 7.5}},
      "xOffset": {"field": "t", "type": "nominal", "sort": ["Untreated", "Prednisolone"], "scale": {"paddingInner": 0.29, "paddingOuter": 0}},
      "y": {"field": "v", "type": "quantitative", "scale": {"domain": [0, 4], "range": [111, 12], "nice": false}, "axis": {"values": [0, 1, 2, 3, 4], "tickCount": 20, "format": "d", "labelOverlap": false, "title": null}},
      "fill": {"field": "t", "type": "nominal", "scale": {"domain": ["Untreated", "Prednisolone"], "range": ["#000000", "#7f0040"]}, "legend": {"orient": "none", "legendX": 2, "legendY": -10, "title": null, "symbolType": "square", "symbolSize": 42, "symbolStrokeColor": "#000", "symbolStrokeWidth": 1, "labelFontSize": 7, "rowPadding": -3}}}},
    {"data": {"name": "dP7"}, "mark": {"type": "rule", "color": "#000", "strokeWidth": 1.3},
     "encoding": {"x": {"field": "g", "type": "nominal", "sort": null}, "xOffset": {"field": "t", "type": "nominal", "sort": ["Untreated", "Prednisolone"]}, "y": {"field": "v", "type": "quantitative"}, "y2": {"field": "e"}}},
    {"data": {"name": "dP7"}, "mark": {"type": "tick", "orient": "horizontal", "color": "#000", "size": 8, "thickness": 1.3},
     "encoding": {"x": {"field": "g", "type": "nominal", "sort": null}, "xOffset": {"field": "t", "type": "nominal", "sort": ["Untreated", "Prednisolone"]}, "y": {"field": "e", "type": "quantitative"}}},
    {"data": {"name": "dP7s"}, "mark": {"type": "tick", "orient": "horizontal", "color": "#000", "size": 27.5, "thickness": 1},
     "encoding": {"x": {"field": "g", "type": "nominal", "sort": null}, "y": {"field": "y", "type": "quantitative"}}},
    {"data": {"name": "dP7s"}, "mark": {"type": "tick", "orient": "vertical", "color": "#000", "size": 4, "thickness": 1, "yOffset": 2},
     "encoding": {"x": {"field": "g", "type": "nominal", "sort": null, "bandPosition": 0.2074}, "y": {"field": "y", "type": "quantitative"}}},
    {"data": {"name": "dP7s"}, "mark": {"type": "tick", "orient": "vertical", "color": "#000", "size": 4, "thickness": 1, "yOffset": 2},
     "encoding": {"x": {"field": "g", "type": "nominal", "sort": null, "bandPosition": 0.7926}, "y": {"field": "y", "type": "quantitative"}}},
    {"data": {"name": "dP7s"}, "mark": {"type": "text", "fontSize": 7, "baseline": "alphabetic", "dy": 1},
     "encoding": {"x": {"field": "g", "type": "nominal", "sort": null}, "y": {"field": "y", "type": "quantitative"}, "text": {"field": "s", "type": "nominal"}}}
   ]}
]
}
